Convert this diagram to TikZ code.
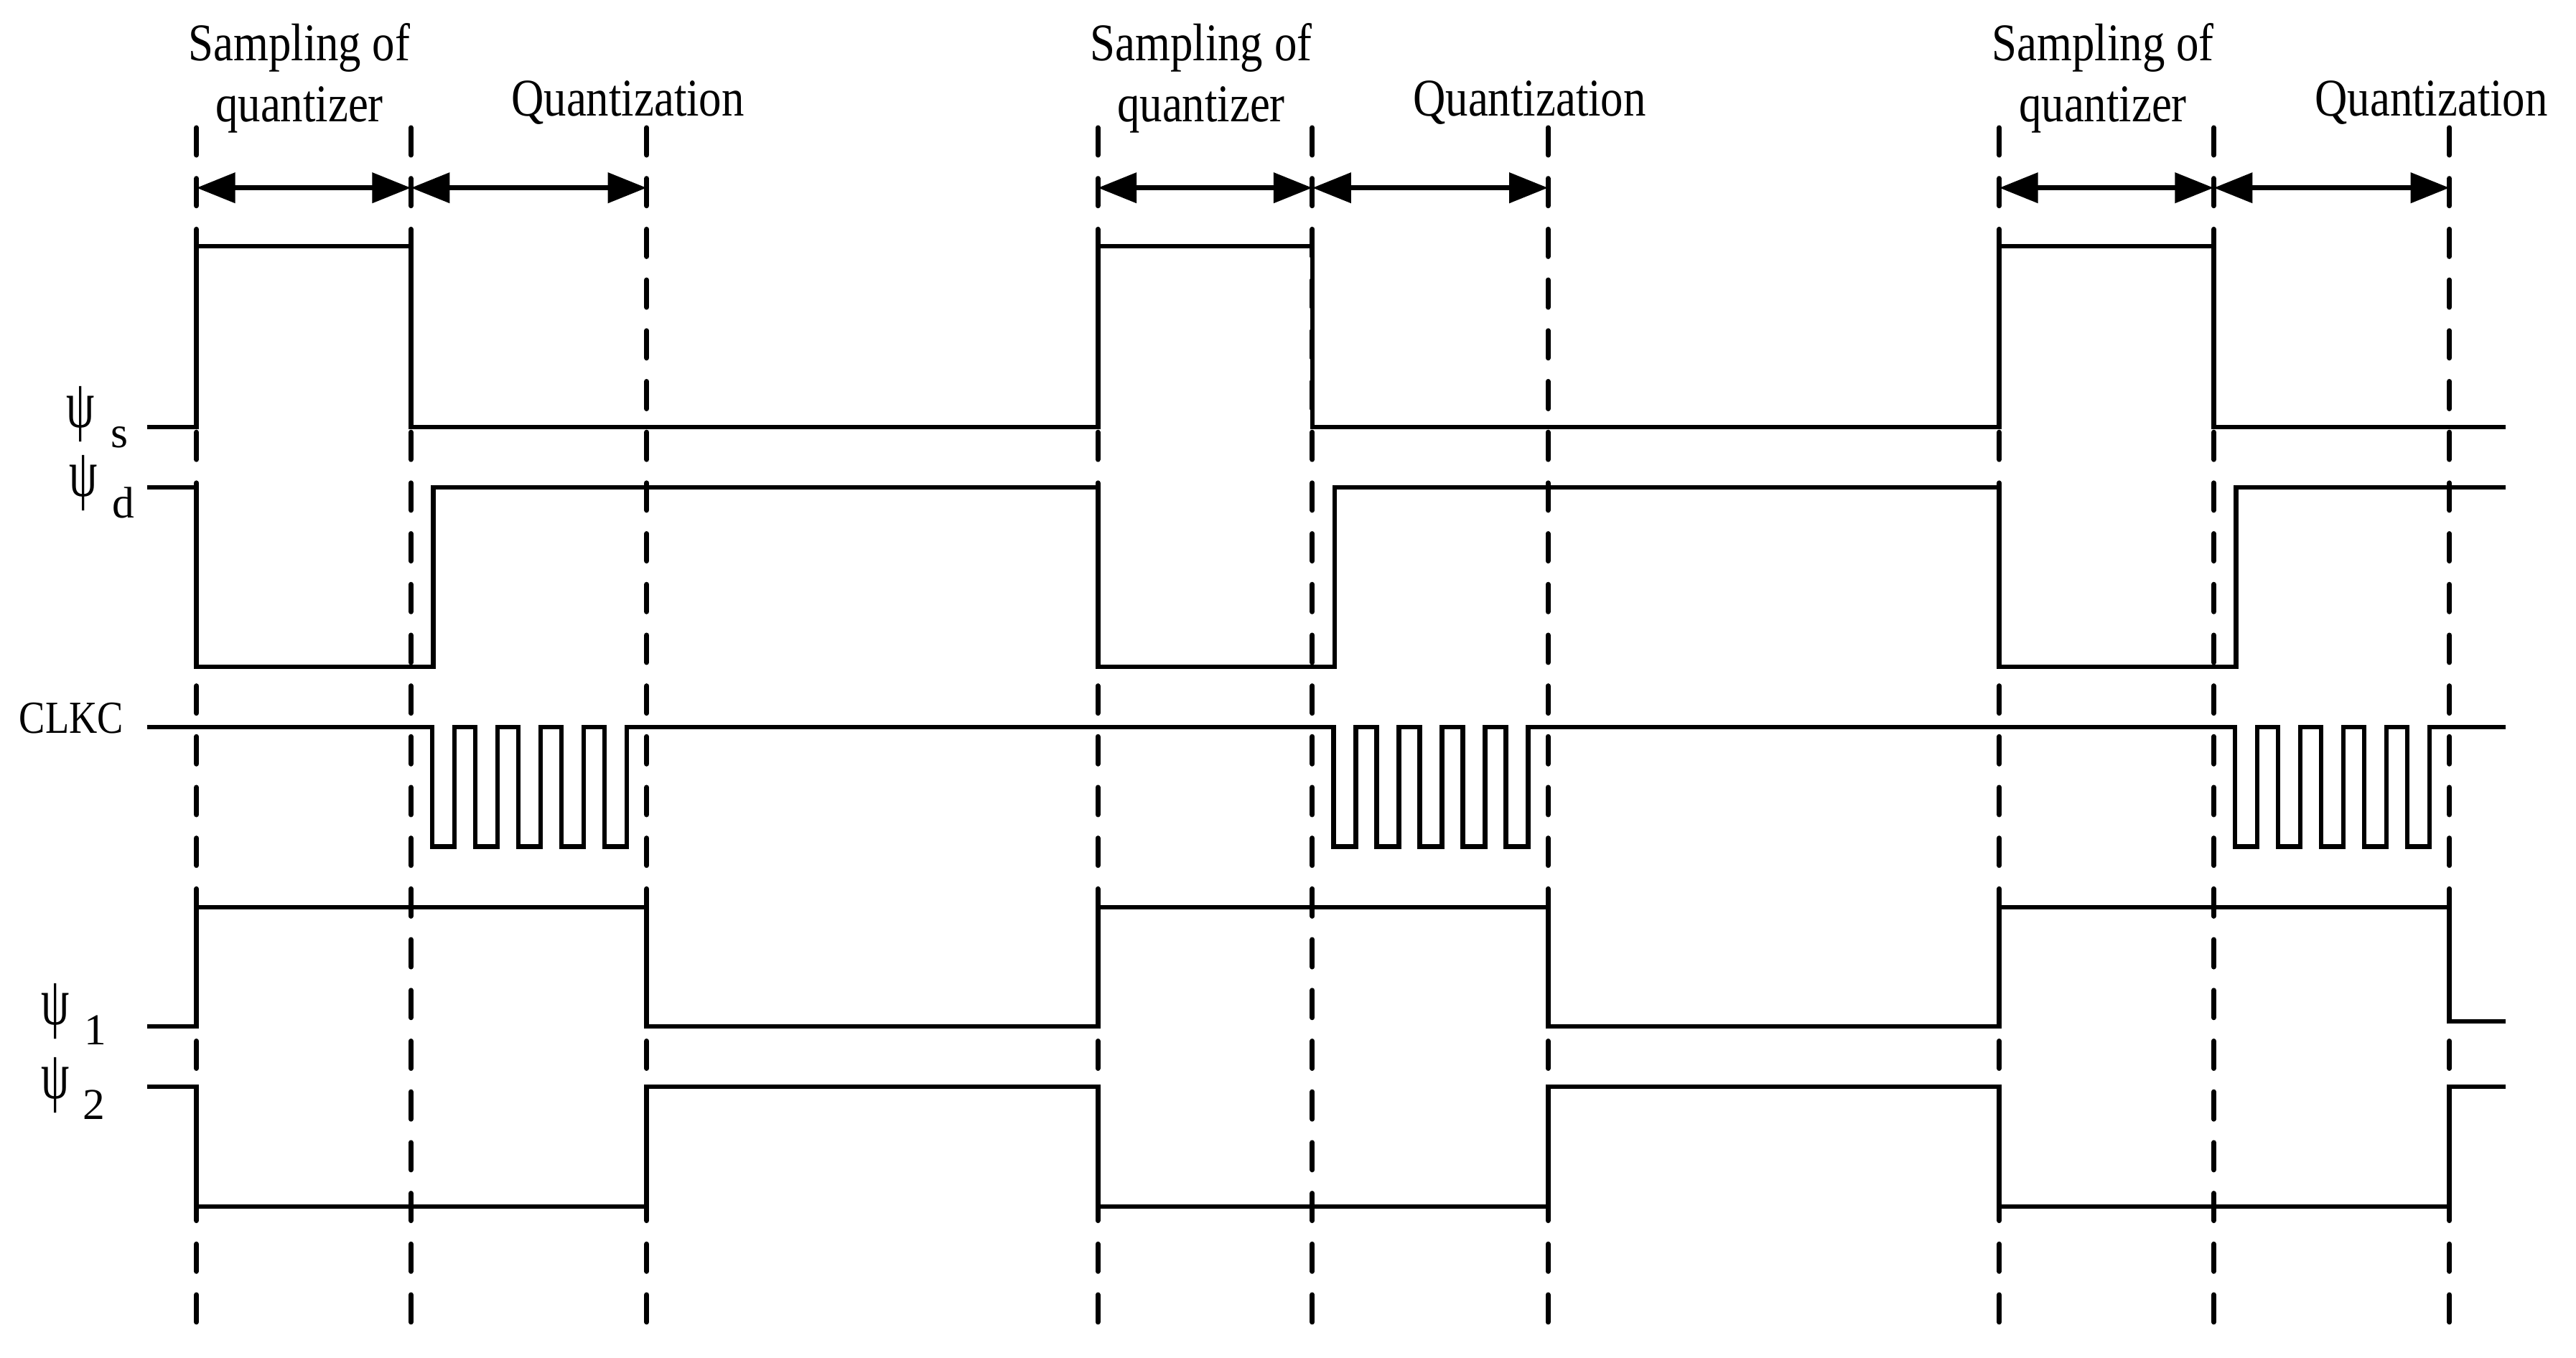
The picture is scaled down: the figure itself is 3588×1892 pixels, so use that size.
\documentclass[tikz,border=0pt]{standalone}
\usepackage{fontspec}
\setmainfont{Liberation Serif}[FakeStretch=0.85]
\newfontfamily\psifont{Liberation Serif}[FakeStretch=0.66]
\newfontfamily\subfont{Liberation Serif}
\usetikzlibrary{arrows.meta}
\begin{document}
\begin{tikzpicture}[x=0.01cm,y=-0.01cm,
  sig/.style={line width=0.068cm, line join=miter, line cap=butt},
  guide/.style={line width=0.07cm, line cap=round, dash pattern=on 0.38cm off 0.3265cm},
  span/.style={line width=0.075cm, {Triangle[length=0.54cm,width=0.41cm]}-{Triangle[length=0.54cm,width=0.41cm]}},
  lab/.style={inner sep=0pt, font=\fontsize{21}{25}\selectfont},
  psilab/.style={inner sep=0pt, font=\psifont\fontsize{27}{32}\selectfont},
  sublab/.style={inner sep=0pt, font=\subfont\fontsize{17.5}{21}\selectfont},
  clklab/.style={inner sep=0pt, font=\fontsize{18.2}{22}\selectfont}]

\useasboundingbox (0,0) rectangle (3588,1892);

% phase boundaries
\foreach \g/\o in {0/0,1/1255.5,2/2511} {
  \coordinate (A\g) at (273.6+\o,178);
  \coordinate (B\g) at (572.4+\o,178);
  \coordinate (C\g) at (900.7+\o,178);
  \coordinate (pA\g) at (273.6+\o,261.7);
  \coordinate (pB\g) at (572.4+\o,261.7);
  \coordinate (pC\g) at (900.7+\o,261.7);
}

% dashed guide lines
\foreach \n in {A0,B0,C0,A1,B1,C1,A2,B2,C2}
  \draw[guide] (\n) -- ++(0,1668);

% interval arrows
\foreach \g in {0,1,2} {
  \draw[span] (pA\g) -- (pB\g);
  \draw[span] (pB\g) -- (pC\g);
}

% phase labels
\foreach \g/\o in {0/0,1/1256,2/2512} {
  \node[lab, anchor=base] (samp\g) at (417+\o,85) {Sampling of};
  \node[lab, anchor=base] (quan\g) at (417+\o,170) {quantizer};
  \node[lab, anchor=base] (qz\g) at (874.5+\o,162) {Quantization};
}

% psi_s
\draw[sig] (205,595) \foreach \o in {0,1255.5,2511} {
  -- (273.6+\o,595) -- (273.6+\o,343) -- (572.4+\o,343) -- (572.4+\o,595) } -- (3490,595);

% psi_d
\draw[sig] (205,679) \foreach \o in {0,1255.5,2511} {
  -- (273.6+\o,679) -- (273.6+\o,929) -- (603.4+\o,929) -- (603.4+\o,679) } -- (3490,679);

% CLKC
\draw[sig] (205,1013) \foreach \o in {0,1255.5,2511} {
  -- (602+\o,1013)
  -- ++(0,166.5) -- ++(31,0) -- ++(0,-166.5) -- ++(29,0)
  -- ++(0,166.5) -- ++(31,0) -- ++(0,-166.5) -- ++(29,0)
  -- ++(0,166.5) -- ++(31,0) -- ++(0,-166.5) -- ++(29,0)
  -- ++(0,166.5) -- ++(31,0) -- ++(0,-166.5) -- ++(29,0)
  -- ++(0,166.5) -- ++(31,0) -- ++(0,-166.5) } -- (3490,1013);

% psi_1
\draw[sig] (205,1430) -- (273.6,1430) -- (273.6,1264) -- (900.7,1264) -- (900.7,1430)
  -- (1529.1,1430) -- (1529.1,1264) -- (2156.2,1264) -- (2156.2,1430)
  -- (2784.6,1430) -- (2784.6,1264) -- (3411.7,1264) -- (3411.7,1423) -- (3490,1423);

% psi_2
\draw[sig] (205,1514) \foreach \o in {0,1255.5,2511} {
  -- (273.6+\o,1514) -- (273.6+\o,1681) -- (900.7+\o,1681) -- (900.7+\o,1514) } -- (3490,1514);

% signal names
\node[psilab] (psis) at (112.5,577) {ψ};
\node[sublab] (psissub) at (166.5,609) {s};
\node[psilab] (psid) at (116,673) {ψ};
\node[sublab] (psidsub) at (171.5,700) {d};
\node[clklab] (clkc) at (99.5,1001) {CLKC};
\node[psilab] (psi1) at (77.5,1409) {ψ};
\node[sublab] (psi1sub) at (132.5,1435) {1};
\node[psilab] (psi2) at (77.5,1512.5) {ψ};
\node[sublab] (psi2sub) at (131,1539) {2};
\end{tikzpicture}
\end{document}
